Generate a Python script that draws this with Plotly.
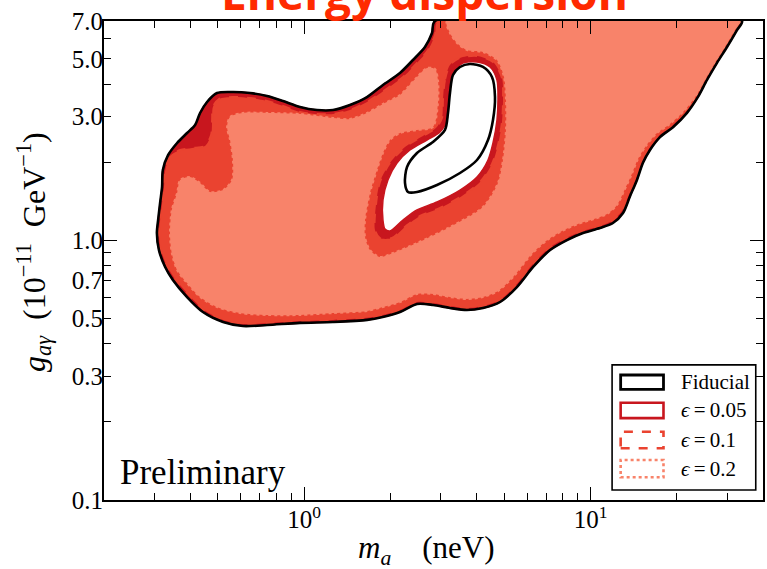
import math
import plotly.graph_objects as go

# ---------------- axis settings ----------------
X_RANGE = [0.2, 40.0]
Y_RANGE = [0.1, 7.0]
X_TICK_VALS = [1, 10]
X_TICK_TEXT = ["10<sup>0</sup>", "10<sup>1</sup>"]
X_MINOR_VALS = [0.2, 0.3, 0.4, 0.5, 0.6, 0.7, 0.8, 0.9, 2, 3, 4, 5, 6, 7, 8, 9, 20, 30, 40]
Y_TICK_VALS = [0.1, 0.3, 0.5, 0.7, 1.0, 3.0, 5.0, 7.0]
Y_TICK_TEXT = ["0.1", "0.3", "0.5", "0.7", "1.0", "3.0", "5.0", "7.0"]
Y_MINOR_VALS = [0.2, 0.4, 0.6, 0.8, 0.9, 2, 4, 6]
Y_MAJOR_LONG = [0.1, 1.0]

# ---------------- contour data (m_a [neV], g [1e-11 GeV^-1]) ----------------
fid_outer_m = [2.862, 33.79, 32.45, 29.95, 27.63, 25.50, 23.71, 21.71, 19.40, 17.47, 16.12, 15.24, 14.52,
               13.73, 12.98, 11.97, 10.78, 9.41, 8.27, 7.22, 6.30, 5.53, 4.83, 4.21, 3.70, 3.23, 2.82, 2.48,
               2.16, 1.88, 1.66, 1.26, 0.967, 0.742, 0.611, 0.521, 0.443, 0.390, 0.348, 0.327, 0.311, 0.306,
               0.309, 0.314, 0.319, 0.321, 0.335, 0.360, 0.390, 0.416, 0.433, 0.458, 0.496, 0.564, 0.647,
               0.742, 0.843, 0.967, 1.108, 1.261, 1.445, 1.657, 1.884, 2.160, 2.398, 2.641, 2.795]
fid_outer_g = [7.0, 7.0, 6.46, 5.56, 4.83, 4.15, 3.57, 3.10, 2.73, 2.50, 2.23, 1.99, 1.71, 1.48, 1.275,
               1.167, 1.116, 1.068, 1.003, 0.918, 0.790, 0.661, 0.579, 0.549, 0.539, 0.549, 0.564, 0.569,
               0.530, 0.507, 0.494, 0.485, 0.481, 0.472, 0.468, 0.485, 0.530, 0.605, 0.704, 0.790, 0.918,
               1.068, 1.198, 1.394, 1.606, 1.867, 2.133, 2.372, 2.592, 2.783, 3.096, 3.413, 3.696, 3.729,
               3.696, 3.599, 3.443, 3.266, 3.179, 3.179, 3.325, 3.567, 3.968, 4.414, 4.954, 5.56, 6.295]

fid_hole_m = [2.304, 2.249, 2.286, 2.477, 2.816, 3.102, 3.178, 3.229, 3.308, 3.50, 3.792, 4.210, 4.526,
              4.637, 4.563, 4.384, 4.013, 3.50, 2.909, 2.477]
fid_hole_g = [1.536, 1.664, 1.918, 2.171, 2.393, 2.663, 3.096, 3.696, 4.336, 4.656, 4.782, 4.656, 4.260,
              3.567, 2.910, 2.436, 2.040, 1.818, 1.634, 1.536]

e05_outer_m = fid_outer_m
e05_outer_g = fid_outer_g
e05_hole_m = [3.585, 4.013, 4.455, 4.712, 4.750, 4.712, 4.563, 4.384, 4.013, 3.50, 2.909, 2.477, 2.213,
              1.993, 1.915, 1.884, 1.884, 1.961, 2.109, 2.341, 2.684, 2.980, 3.152, 3.178, 3.229, 3.362]
e05_hole_g = [4.825, 4.867, 4.656, 4.148, 3.474, 2.910, 2.372, 2.040, 1.755, 1.563, 1.406, 1.310, 1.198,
              1.087, 1.106, 1.198, 1.431, 1.709, 1.987, 2.229, 2.436, 2.616, 2.910, 3.474, 4.039, 4.533]

e10_outer_m = [2.932, 33.52, 32.19, 29.71, 27.41, 25.29, 23.52, 21.54, 19.24, 17.34, 15.99, 15.12, 14.41,
               13.62, 12.88, 11.88, 10.78, 9.41, 8.205, 7.160, 6.245, 5.490, 4.827, 4.210, 3.702, 3.229,
               2.816, 2.477, 2.160, 1.884, 1.657, 1.261, 0.967, 0.742, 0.611, 0.521, 0.447, 0.396, 0.354,
               0.332, 0.316, 0.311, 0.314, 0.319, 0.324, 0.327, 0.340, 0.369, 0.406, 0.450, 0.473, 0.477,
               0.480, 0.504, 0.564, 0.647, 0.742, 0.843, 0.967, 1.108, 1.261, 1.445, 1.657, 1.915, 2.213,
               2.457, 2.706, 2.862]
e10_outer_g = [7.0, 7.0, 6.46, 5.56, 4.83, 4.15, 3.57, 3.12, 2.76, 2.53, 2.25, 2.00, 1.72, 1.50, 1.30,
               1.19, 1.136, 1.087, 1.021, 0.935, 0.804, 0.673, 0.589, 0.559, 0.549, 0.559, 0.574, 0.579,
               0.539, 0.516, 0.503, 0.494, 0.489, 0.481, 0.476, 0.494, 0.539, 0.616, 0.710, 0.797, 0.918,
               1.068, 1.198, 1.394, 1.606, 1.851, 2.114, 2.229, 2.269, 2.310, 2.547, 2.910, 3.266, 3.505,
               3.567, 3.536, 3.443, 3.295, 3.124, 3.068, 3.068, 3.179, 3.413, 3.796, 4.260, 4.782, 5.414,
               6.182]
e10_hole_m = [3.50, 4.013, 4.563, 4.905, 4.945, 4.905, 4.750, 4.526, 4.111, 3.556, 2.980, 2.537, 2.267,
              2.026, 1.839, 1.767, 1.781, 1.839, 1.993, 2.249, 2.599, 2.885, 3.028, 3.052, 3.102, 3.229]
e10_hole_g = [5.043, 5.133, 4.867, 4.223, 3.474, 2.858, 2.330, 1.969, 1.679, 1.483, 1.333, 1.242, 1.136,
              1.021, 1.021, 1.097, 1.369, 1.679, 1.987, 2.289, 2.525, 2.710, 2.962, 3.474, 4.148, 4.740]

e20_m = [3.152, 33.25, 31.93, 29.47, 27.19, 25.09, 23.33, 21.19, 18.94, 17.06, 15.61, 14.64, 13.84, 13.09,
         12.37, 11.41, 10.28, 9.036, 7.946, 6.989, 6.144, 5.403, 4.750, 4.210, 3.702, 3.229, 2.816, 2.477,
         2.160, 1.884, 1.657, 1.261, 0.967, 0.742, 0.597, 0.496, 0.433, 0.390, 0.360, 0.345, 0.340, 0.345,
         0.360, 0.369, 0.399, 0.433, 0.469, 0.521, 0.560, 0.564, 0.551, 0.538, 0.551, 0.611, 0.742, 0.967,
         1.261, 1.445, 1.657, 1.884, 2.160, 2.286, 2.477, 2.684, 2.862, 2.932, 2.932, 2.816, 2.477, 2.160,
         1.993, 1.884, 1.795, 1.697, 1.631, 1.631, 1.697, 1.839, 2.042, 2.477, 3.229, 4.210, 4.750, 4.945,
         5.066, 5.066, 4.985, 4.712, 4.210, 3.702, 3.417, 3.229]
e20_g = [7.0, 7.0, 6.46, 5.56, 4.83, 4.15, 3.60, 3.15, 2.81, 2.59, 2.31, 2.06, 1.77, 1.55, 1.37, 1.264,
         1.209, 1.157, 1.087, 0.995, 0.871, 0.729, 0.638, 0.605, 0.595, 0.605, 0.622, 0.622, 0.579, 0.554,
         0.535, 0.525, 0.516, 0.516, 0.525, 0.554, 0.605, 0.685, 0.769, 0.894, 1.068, 1.310, 1.523, 1.709,
         1.755, 1.664, 1.536, 1.563, 1.709, 2.040, 2.436, 2.734, 2.988, 3.096, 3.096, 3.068, 2.962, 2.936,
         3.096, 3.354, 3.633, 3.864, 4.260, 4.615, 4.574, 4.148, 3.383, 2.734, 2.663, 2.592, 2.436, 2.171,
         1.867, 1.523, 1.198, 1.031, 0.918, 0.863, 0.894, 0.977, 1.126, 1.345, 1.664, 2.040, 2.663, 3.474,
         4.260, 4.954, 5.318, 5.414, 5.761, 6.295]

LEGEND_LABELS = ["Fiducial", "<i>ϵ</i>\u2009=\u20090.05", "<i>ϵ</i>\u2009=\u20090.1", "<i>ϵ</i>\u2009=\u20090.2"]

# ---------------- styles ----------------
C_FID = "#000000"
C05 = "#C8161E"
C10 = "#EA4330"
C20 = "#F8836A"
SERIF = "Liberation Serif"


def ring_area(ms, gs):
    a = 0.0
    n = len(ms)
    for i in range(n):
        x1, y1 = math.log10(ms[i]), math.log10(gs[i])
        x2, y2 = math.log10(ms[(i + 1) % n]), math.log10(gs[(i + 1) % n])
        a += x1 * y2 - x2 * y1
    return a / 2.0


def closed(ms, gs):
    return list(ms) + [ms[0]], list(gs) + [gs[0]]


def with_hole(om, og, hm, hg):
    if (ring_area(om, og) > 0) == (ring_area(hm, hg) > 0):
        hm, hg = hm[::-1], hg[::-1]
    a, b = closed(om, og)
    c, d = closed(hm, hg)
    return a + [None] + c, b + [None] + d


fig = go.Figure()

x05, y05 = with_hole(e05_outer_m, e05_outer_g, e05_hole_m, e05_hole_g)
fig.add_trace(go.Scatter(x=x05, y=y05, mode="lines", fill="toself", fillcolor=C05,
                         line=dict(color=C05, width=1.5, shape="spline", smoothing=0.8),
                         hoverinfo="skip", showlegend=False))
x10, y10 = with_hole(e10_outer_m, e10_outer_g, e10_hole_m, e10_hole_g)
fig.add_trace(go.Scatter(x=x10, y=y10, mode="lines", fill="toself", fillcolor=C10,
                         line=dict(color=C10, width=2, dash="dash", shape="spline", smoothing=0.8),
                         hoverinfo="skip", showlegend=False))
x20, y20 = closed(e20_m, e20_g)
fig.add_trace(go.Scatter(x=x20, y=y20, mode="lines", fill="toself", fillcolor=C20,
                         line=dict(color=C20, width=2, dash="dot", shape="spline", smoothing=0.8),
                         hoverinfo="skip", showlegend=False))
xf, yf = closed(fid_outer_m, fid_outer_g)
fig.add_trace(go.Scatter(x=xf, y=yf, mode="lines", line=dict(color=C_FID, width=2.6, shape="spline", smoothing=0.8),
                         hoverinfo="skip", showlegend=False))
xh, yh = closed(fid_hole_m, fid_hole_g)
fig.add_trace(go.Scatter(x=xh, y=yh, mode="lines", line=dict(color=C_FID, width=2.6, shape="spline", smoothing=0.8),
                         hoverinfo="skip", showlegend=False))

# overlay axis only for the long decade ticks on the y axis
fig.add_trace(go.Scatter(x=[None], y=[None], yaxis="y2", showlegend=False, hoverinfo="skip"))

axis_common = dict(type="log", ticks="inside", tickcolor="black", tickwidth=1.3, showline=True,
                   linecolor="black", linewidth=2, mirror="ticks", showgrid=False, zeroline=False,
                   automargin=False)
tick_font = dict(family=SERIF, size=25, color="black")

fig.update_layout(
    width=767, height=569,
    margin=dict(l=104, r=4, t=21, b=69, autoexpand=False),
    plot_bgcolor="white", paper_bgcolor="white",
    showlegend=False,
    font=dict(family=SERIF, color="black"),
    xaxis=dict(range=[math.log10(X_RANGE[0]), math.log10(X_RANGE[1])], tickmode="array",
               tickvals=X_TICK_VALS, ticktext=X_TICK_TEXT, ticklen=13, ticklabelstandoff=-4,
               tickfont=tick_font,
               minor=dict(tickmode="array", tickvals=X_MINOR_VALS, ticks="inside", ticklen=7,
                          tickwidth=1.3, tickcolor="black", showgrid=False),
               **axis_common),
    yaxis=dict(range=[math.log10(Y_RANGE[0]), math.log10(Y_RANGE[1])], tickmode="array",
               tickvals=Y_TICK_VALS, ticktext=Y_TICK_TEXT, ticklen=7, ticklabelstandoff=-6,
               tickfont=tick_font,
               minor=dict(tickmode="array", tickvals=Y_MINOR_VALS, ticks="inside", ticklen=7,
                          tickwidth=1.3, tickcolor="black", showgrid=False),
               **axis_common),
    yaxis2=dict(overlaying="y", side="left", range=[math.log10(Y_RANGE[0]), math.log10(Y_RANGE[1])],
                tickmode="array", tickvals=Y_MAJOR_LONG, ticklen=13, showticklabels=False,
                **axis_common),
)

# title (partly cut by the top edge, as in the reference)
fig.add_annotation(xref="paper", yref="paper", x=0.4856, y=0.9915, xanchor="center", yanchor="bottom",
                   text="<b>Energy dispersion</b>", showarrow=False,
                   font=dict(family="Open Sans", size=46, color="#FF2A00"))

# axis titles
fig.add_annotation(xref="paper", yref="paper", x=0.490, y=-0.105, xanchor="center", yanchor="middle",
                   text="<i>m</i><sub><i>a</i></sub>\u2003(neV)", showarrow=False,
                   font=dict(family=SERIF, size=31, color="black"))
fig.add_annotation(xref="paper", yref="paper", x=-0.106, y=0.518, xanchor="center", yanchor="middle",
                   textangle=-90,
                   text="<i>g</i><sub><i>aγ</i></sub>\u2002(10<sup>−11</sup>\u2002GeV<sup>−1</sup>)",
                   showarrow=False, font=dict(family=SERIF, size=32, color="black"))

# Preliminary
fig.add_annotation(xref="paper", yref="paper", x=0.021, y=0.058, xanchor="left", yanchor="middle",
                   text="Preliminary", showarrow=False, font=dict(family=SERIF, size=35, color="black"))

# legend box
fig.add_shape(type="rect", xref="paper", yref="paper", x0=0.771, x1=0.989, y0=0.021, y1=0.282,
              line=dict(color="black", width=1.6), fillcolor="white", layer="above")
leg_y = [(0.231, 0.261), (0.171, 0.203), (0.108, 0.1426), (0.0474, 0.0835)]
leg_style = [(C_FID, "solid", 2.8), (C05, "solid", 2.6), (C10, "dash", 2.6), (C20, "dot", 2.6)]
for (y0, y1), (col, dash, w), lab in zip(leg_y, leg_style, LEGEND_LABELS):
    fig.add_shape(type="rect", xref="paper", yref="paper", x0=0.784, x1=0.849, y0=y0, y1=y1,
                  line=dict(color=col, width=w, dash=dash), fillcolor="rgba(0,0,0,0)", layer="above")
    fig.add_annotation(xref="paper", yref="paper", x=0.872, y=(y0 + y1) / 2, xanchor="left",
                       yanchor="middle", text=lab, showarrow=False,
                       font=dict(family=SERIF, size=21, color="black"))

fig.write_html("out.html", config={"responsive": False, "displayModeBar": False},
               post_script="document.body.style.margin='0';document.body.style.overflow='hidden';")
